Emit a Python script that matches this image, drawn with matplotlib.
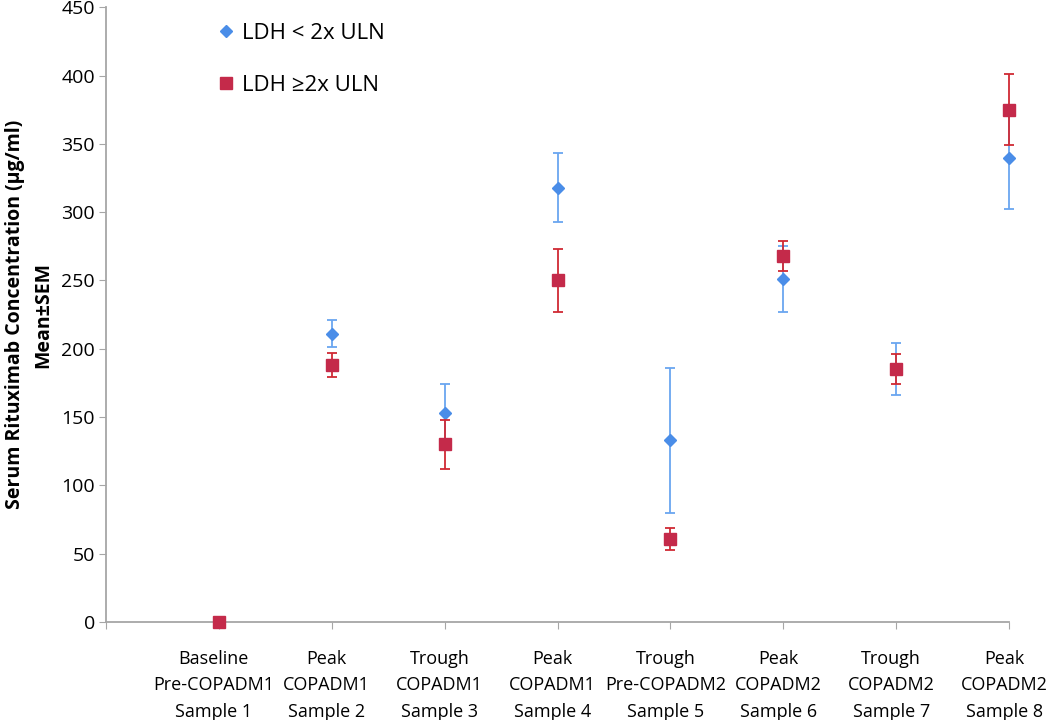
import numpy as np
import matplotlib.pyplot as plt
import matplotlib.transforms as mtransforms

plt.rcParams['font.family'] = ['Open Sans', 'DejaVu Sans']

# categories (sample positions 1..8)
labels = ["Baseline\nPre-COPADM1\nSample 1", "Peak\nCOPADM1\nSample 2",
          "Trough\nCOPADM1\nSample 3", "Peak\nCOPADM1\nSample 4",
          "Trough\nPre-COPADM2\nSample 5", "Peak\nCOPADM2\nSample 6",
          "Trough\nCOPADM2\nSample 7", "Peak\nCOPADM2\nSample 8"]
samples = [1, 2, 3, 4, 5, 6, 7, 8]

# LDH < 2x ULN (no value at baseline)
low_x = [2, 3, 4, 5, 6, 7, 8]
low_mean = [211, 153, 318, 133, 251, 185, 340]
low_sem = [10, 21, 25, 53, 24, 19, 38]

# LDH >= 2x ULN
high_x = [1, 2, 3, 4, 5, 6, 7, 8]
high_mean = [0, 188, 130, 250, 61, 268, 185, 375]
high_sem = [0, 9, 18, 23, 8, 11, 11, 26]

blue = "#4A8DE8"
blue_err = "#6AA6F0"
red = "#C42A4A"
red_err = "#D02A34"
grey = "#A6A6A6"

fig = plt.figure(figsize=(10.5, 7.2), dpi=100)
ax = fig.add_axes([0.101, 0.136, 0.860, 0.854])

low = ax.errorbar(low_x, low_mean, yerr=low_sem, fmt="D", color=blue, ecolor=blue_err,
                  markersize=6.5, elinewidth=1.3, capsize=3.5, capthick=1.3,
                  label="LDH < 2x ULN", zorder=3)
high = ax.errorbar(high_x, high_mean, yerr=high_sem, fmt="s", color=red, ecolor=red_err,
                   markersize=8.5, elinewidth=1.3, capsize=3.5, capthick=1.3,
                   label="LDH \u22652x ULN", zorder=4)
for eb in (low, high):
    for art in eb.lines[0:1] + eb.lines[1] + eb.lines[2]:
        art.set_clip_on(False)

ax.set_xlim(0, 8)
ax.set_ylim(0, 450)
ax.set_yticks(np.arange(0, 451, 50))
ax.set_xticks([0] + samples)
ax.set_xticklabels([""] + labels, fontsize=13, linespacing=1.6)
ax.tick_params(axis="y", labelsize=14, length=5, color=grey, pad=3)
ax.tick_params(axis="x", length=5, color=grey, pad=15)

# category labels sit slightly left of their tick, as in the original
shift = mtransforms.ScaledTranslation(-5 / 100, 0, fig.dpi_scale_trans)
for lab in ax.get_xticklabels():
    lab.set_transform(lab.get_transform() + shift)

for side in ["top", "right"]:
    ax.spines[side].set_visible(False)
for side in ["left", "bottom"]:
    ax.spines[side].set_color(grey)
    ax.spines[side].set_linewidth(1.3)

ax.set_ylabel("Serum Rituximab Concentration (\u00b5g/ml)\nMean\u00b1SEM",
              fontsize=14, fontweight="bold", linespacing=1.6)
ax.yaxis.set_label_coords(-0.058, 0.5)

handles = [low[0], high[0]]
ax.legend(handles, [h.get_label() for h in (low, high)], loc="upper left",
          bbox_to_anchor=(0.121, 0.975), borderaxespad=0, borderpad=0,
          frameon=False, fontsize=16, labelspacing=1.4, handletextpad=0.2,
          handlelength=1.0)

fig.savefig("out.png", dpi=100)
